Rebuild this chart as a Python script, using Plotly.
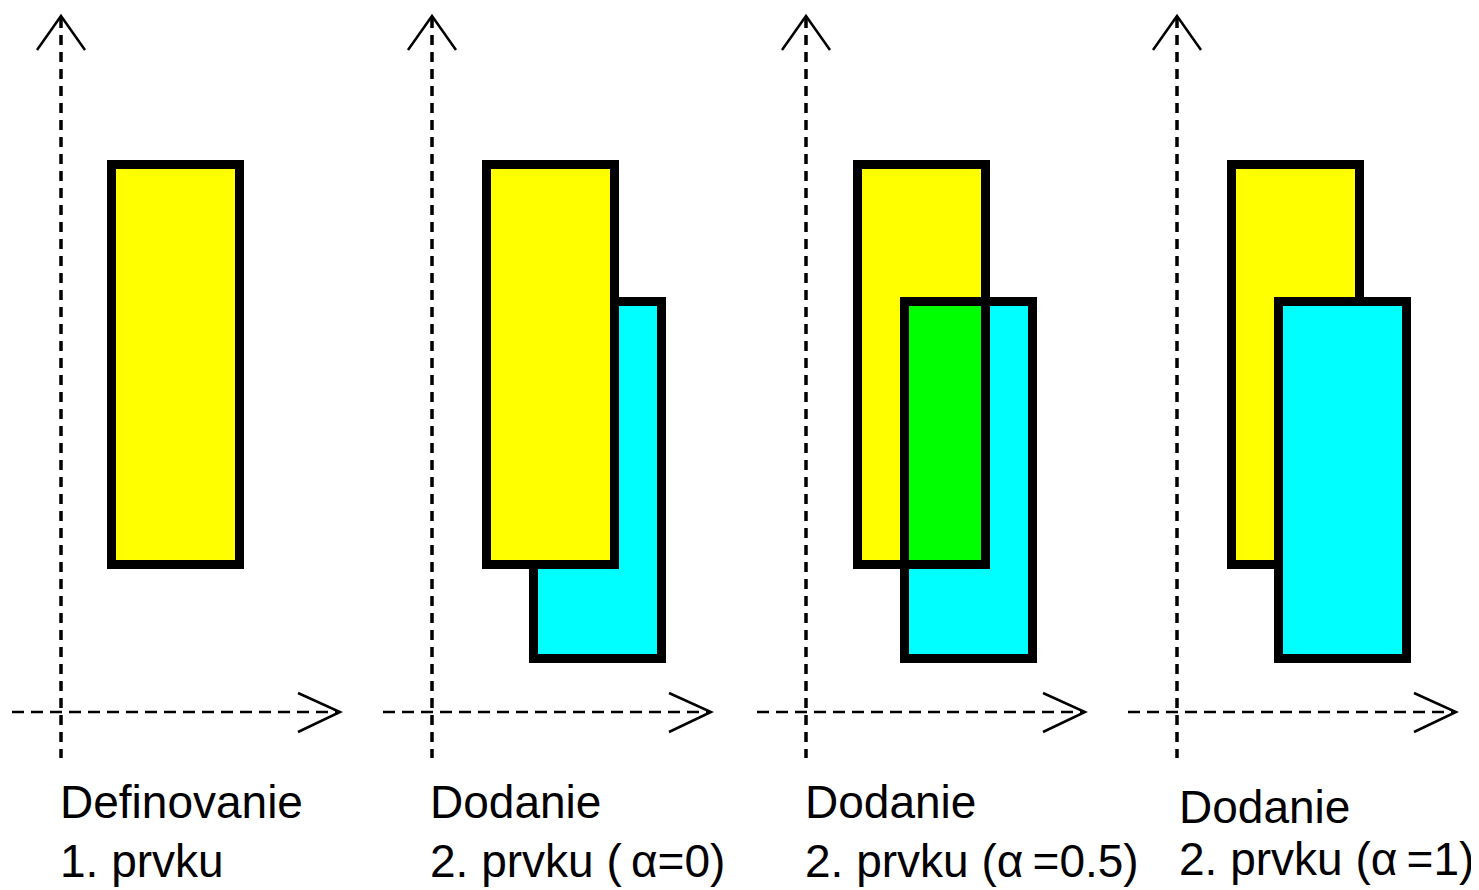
import plotly.graph_objects as go

# ---- diagram data (pixel geometry of the scheme) ----
W, H = 1479, 890
PAGE_MARGIN = 8                               # browser default body margin
panel_axis_x = [61, 432, 806, 1177]          # vertical axis position per panel
axis_y = 712                                  # horizontal axis position
vaxis_top, vaxis_bottom = 16, 758
haxis_left_off, haxis_right_off = -49, 279

yellow_x0 = [111.5, 486.5, 857.5, 1231.5]     # stroke centre lines
rect_w = 128
yellow_y = [164.5, 564.5]
cyan_dx = 47
cyan_y = [301.5, 658.5]
alphas = [None, 0, 0.5, 1]

line1 = ["Definovanie", "Dodanie", "Dodanie", "Dodanie"]
line2 = ["1. prvku", "2. prvku (\u2009α=0)", "2. prvku (α\u2009=0.5)", "2. prvku (α\u2009=1)"]
text_x = [61, 431, 806, 1180]
line1_baseline = [818, 818, 818, 823]
line2_baseline = [877, 877, 877, 875]

YELLOW = "#ffff00"
CYAN = "#00ffff"
GREEN = "#00ff00"

fig = go.Figure()
fig.add_trace(go.Scatter(x=[PAGE_MARGIN, W], y=[PAGE_MARGIN, H], mode="markers",
                         marker=dict(opacity=0), hoverinfo="skip", showlegend=False))

shapes = []

def rect(x0, x1, y0, y1, fill, line=True):
    d = dict(type="rect", xref="x", yref="y", x0=x0, x1=x1, y0=y0, y1=y1, layer="above")
    d["fillcolor"] = fill if fill is not None else "rgba(0,0,0,0)"
    d["line"] = dict(color="black", width=9) if line else dict(width=0)
    return d

for i, ax in enumerate(panel_axis_x):
    # axes
    shapes.append(dict(type="line", xref="x", yref="y", x0=ax, x1=ax,
                       y0=vaxis_top + 2, y1=vaxis_bottom,
                       line=dict(color="black", width=3.5, dash="10px,7px"), layer="above"))
    hx0, hx1 = ax + haxis_left_off, ax + haxis_right_off
    shapes.append(dict(type="line", xref="x", yref="y", x0=hx0, x1=hx1 - 2,
                       y0=axis_y, y1=axis_y,
                       line=dict(color="black", width=2.5, dash="12px,7px"), layer="above"))
    # arrow heads
    shapes.append(dict(type="path", xref="x", yref="y",
                       path=f"M {ax-24},{vaxis_top+34} L {ax},{vaxis_top} L {ax+24},{vaxis_top+34}",
                       line=dict(color="black", width=2.5), layer="above"))
    shapes.append(dict(type="path", xref="x", yref="y",
                       path=f"M {hx1-42},{axis_y-19} L {hx1},{axis_y} L {hx1-42},{axis_y+20}",
                       line=dict(color="black", width=2.5), layer="above"))

    yx0 = yellow_x0[i]
    yx1 = yx0 + rect_w
    if alphas[i] is None:
        shapes.append(rect(yx0, yx1, yellow_y[0], yellow_y[1], YELLOW))
        continue
    cx0 = yx0 + cyan_dx
    cx1 = cx0 + rect_w
    a = alphas[i]
    if a == 0:
        shapes.append(rect(cx0, cx1, cyan_y[0], cyan_y[1], CYAN))
        shapes.append(rect(yx0, yx1, yellow_y[0], yellow_y[1], YELLOW))
    elif a == 1:
        shapes.append(rect(yx0, yx1, yellow_y[0], yellow_y[1], YELLOW))
        shapes.append(rect(cx0, cx1, cyan_y[0], cyan_y[1], CYAN))
    else:
        shapes.append(rect(yx0, yx1, yellow_y[0], yellow_y[1], YELLOW, line=False))
        shapes.append(rect(cx0, cx1, cyan_y[0], cyan_y[1], CYAN, line=False))
        shapes.append(rect(cx0, yx1, cyan_y[0], yellow_y[1], GREEN, line=False))
        shapes.append(rect(yx0, yx1, yellow_y[0], yellow_y[1], None))
        shapes.append(rect(cx0, cx1, cyan_y[0], cyan_y[1], None))

annotations = []
FS = 46
for i in range(4):
    for txt, base in ((line1[i], line1_baseline[i]), (line2[i], line2_baseline[i])):
        annotations.append(dict(x=text_x[i] - 3, y=base - 16, xref="x", yref="y",
                                text=txt, showarrow=False, xanchor="left", yanchor="middle",
                                font=dict(family="Liberation Sans, Arial, sans-serif",
                                          size=FS, color="black")))

fig.update_layout(
    width=W - PAGE_MARGIN, height=H - PAGE_MARGIN,
    margin=dict(l=0, r=0, t=0, b=0),
    paper_bgcolor="white", plot_bgcolor="white",
    xaxis=dict(range=[PAGE_MARGIN, W], visible=False, fixedrange=True),
    yaxis=dict(range=[H, PAGE_MARGIN], visible=False, fixedrange=True),
    shapes=shapes, annotations=annotations, showlegend=False,
)

fig.write_html("out.html")
